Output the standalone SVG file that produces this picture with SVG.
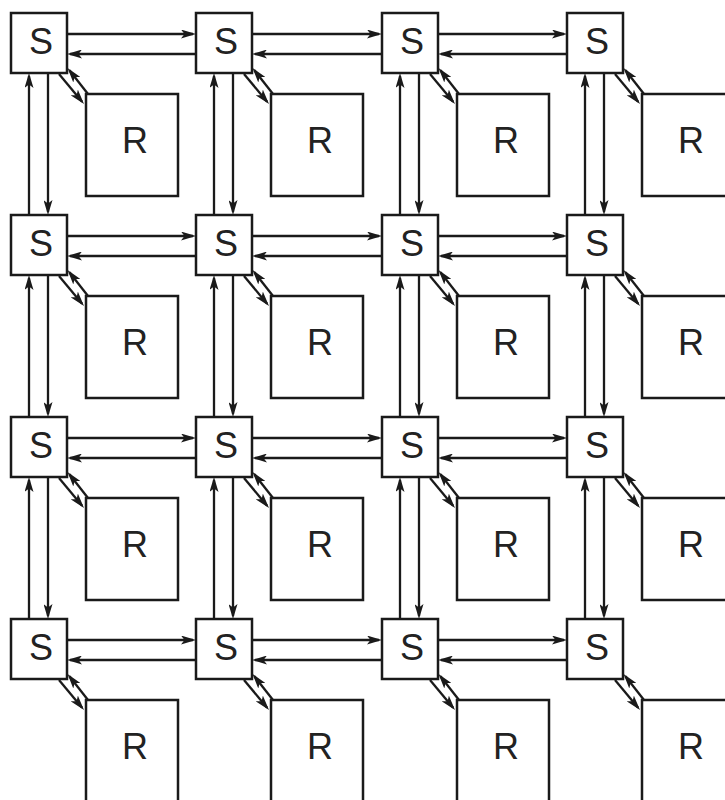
<svg xmlns="http://www.w3.org/2000/svg" width="725" height="800" viewBox="0 0 725 800">
<defs>
<marker id="ah" markerWidth="15" markerHeight="9" refX="12" refY="4.5" orient="auto" markerUnits="userSpaceOnUse"><path d="M0,0 L15,4.5 L0,9 L3.5,4.5 z" fill="#1a1a1a"/></marker>
</defs>
<style>
.box{fill:#fff;stroke:#1a1a1a;stroke-width:2.5}
.lbl{font-family:"Liberation Sans",Arial,sans-serif;font-size:36px;fill:#222;text-anchor:middle}
.c line{stroke:#1a1a1a;stroke-width:2.3;marker-end:url(#ah)}
</style>
<rect width="725" height="800" fill="#fff"/>
<g id="connectors" class="c">
<!-- horizontal, row 1 -->
<line x1="67" y1="34" x2="193" y2="34"/><line x1="196" y1="54" x2="70" y2="54"/>
<line x1="252" y1="34" x2="379" y2="34"/><line x1="382" y1="54" x2="255" y2="54"/>
<line x1="438" y1="34" x2="564" y2="34"/><line x1="567" y1="54" x2="441" y2="54"/>
<!-- row 2 -->
<line x1="67" y1="236" x2="193" y2="236"/><line x1="196" y1="256" x2="70" y2="256"/>
<line x1="252" y1="236" x2="379" y2="236"/><line x1="382" y1="256" x2="255" y2="256"/>
<line x1="438" y1="236" x2="564" y2="236"/><line x1="567" y1="256" x2="441" y2="256"/>
<!-- row 3 -->
<line x1="67" y1="438" x2="193" y2="438"/><line x1="196" y1="458" x2="70" y2="458"/>
<line x1="252" y1="438" x2="379" y2="438"/><line x1="382" y1="458" x2="255" y2="458"/>
<line x1="438" y1="438" x2="564" y2="438"/><line x1="567" y1="458" x2="441" y2="458"/>
<!-- row 4 -->
<line x1="67" y1="640" x2="193" y2="640"/><line x1="196" y1="660" x2="70" y2="660"/>
<line x1="252" y1="640" x2="379" y2="640"/><line x1="382" y1="660" x2="255" y2="660"/>
<line x1="438" y1="640" x2="564" y2="640"/><line x1="567" y1="660" x2="441" y2="660"/>
<!-- vertical, col 1 -->
<line x1="29" y1="215" x2="29" y2="76"/><line x1="48" y1="73" x2="48" y2="212"/>
<line x1="29" y1="417" x2="29" y2="278"/><line x1="48" y1="275" x2="48" y2="414"/>
<line x1="29" y1="619" x2="29" y2="480"/><line x1="48" y1="477" x2="48" y2="616"/>
<!-- col 2 -->
<line x1="214" y1="215" x2="214" y2="76"/><line x1="233" y1="73" x2="233" y2="212"/>
<line x1="214" y1="417" x2="214" y2="278"/><line x1="233" y1="275" x2="233" y2="414"/>
<line x1="214" y1="619" x2="214" y2="480"/><line x1="233" y1="477" x2="233" y2="616"/>
<!-- col 3 -->
<line x1="400" y1="215" x2="400" y2="76"/><line x1="419" y1="73" x2="419" y2="212"/>
<line x1="400" y1="417" x2="400" y2="278"/><line x1="419" y1="275" x2="419" y2="414"/>
<line x1="400" y1="619" x2="400" y2="480"/><line x1="419" y1="477" x2="419" y2="616"/>
<!-- col 4 -->
<line x1="585" y1="215" x2="585" y2="76"/><line x1="604" y1="73" x2="604" y2="212"/>
<line x1="585" y1="417" x2="585" y2="278"/><line x1="604" y1="275" x2="604" y2="414"/>
<line x1="585" y1="619" x2="585" y2="480"/><line x1="604" y1="477" x2="604" y2="616"/>
<!-- diagonals S<->R -->
<line x1="59" y1="74" x2="82.1" y2="101.7"/><line x1="88" y1="94" x2="69.4" y2="70.3"/>
<line x1="244" y1="74" x2="267.1" y2="101.7"/><line x1="273" y1="94" x2="254.4" y2="70.3"/>
<line x1="430" y1="74" x2="453.1" y2="101.7"/><line x1="459" y1="94" x2="440.4" y2="70.3"/>
<line x1="615" y1="74" x2="638.1" y2="101.7"/><line x1="644" y1="94" x2="625.4" y2="70.3"/>
<line x1="59" y1="276" x2="82.1" y2="303.7"/><line x1="88" y1="296" x2="69.4" y2="272.3"/>
<line x1="244" y1="276" x2="267.1" y2="303.7"/><line x1="273" y1="296" x2="254.4" y2="272.3"/>
<line x1="430" y1="276" x2="453.1" y2="303.7"/><line x1="459" y1="296" x2="440.4" y2="272.3"/>
<line x1="615" y1="276" x2="638.1" y2="303.7"/><line x1="644" y1="296" x2="625.4" y2="272.3"/>
<line x1="59" y1="478" x2="82.1" y2="505.7"/><line x1="88" y1="498" x2="69.4" y2="474.3"/>
<line x1="244" y1="478" x2="267.1" y2="505.7"/><line x1="273" y1="498" x2="254.4" y2="474.3"/>
<line x1="430" y1="478" x2="453.1" y2="505.7"/><line x1="459" y1="498" x2="440.4" y2="474.3"/>
<line x1="615" y1="478" x2="638.1" y2="505.7"/><line x1="644" y1="498" x2="625.4" y2="474.3"/>
<line x1="59" y1="680" x2="82.1" y2="707.7"/><line x1="88" y1="700" x2="69.4" y2="676.3"/>
<line x1="244" y1="680" x2="267.1" y2="707.7"/><line x1="273" y1="700" x2="254.4" y2="676.3"/>
<line x1="430" y1="680" x2="453.1" y2="707.7"/><line x1="459" y1="700" x2="440.4" y2="676.3"/>
<line x1="615" y1="680" x2="638.1" y2="707.7"/><line x1="644" y1="700" x2="625.4" y2="676.3"/>
</g>
<g id="S11"><rect class="box" x="11" y="13" width="56" height="60"/><text class="lbl" x="41" y="54">S</text></g>
<g id="S12"><rect class="box" x="196" y="13" width="56" height="60"/><text class="lbl" x="226" y="54">S</text></g>
<g id="S13"><rect class="box" x="382" y="13" width="56" height="60"/><text class="lbl" x="412" y="54">S</text></g>
<g id="S14"><rect class="box" x="567" y="13" width="56" height="60"/><text class="lbl" x="597" y="54">S</text></g>
<g id="S21"><rect class="box" x="11" y="215" width="56" height="60"/><text class="lbl" x="41" y="256">S</text></g>
<g id="S22"><rect class="box" x="196" y="215" width="56" height="60"/><text class="lbl" x="226" y="256">S</text></g>
<g id="S23"><rect class="box" x="382" y="215" width="56" height="60"/><text class="lbl" x="412" y="256">S</text></g>
<g id="S24"><rect class="box" x="567" y="215" width="56" height="60"/><text class="lbl" x="597" y="256">S</text></g>
<g id="S31"><rect class="box" x="11" y="417" width="56" height="60"/><text class="lbl" x="41" y="458">S</text></g>
<g id="S32"><rect class="box" x="196" y="417" width="56" height="60"/><text class="lbl" x="226" y="458">S</text></g>
<g id="S33"><rect class="box" x="382" y="417" width="56" height="60"/><text class="lbl" x="412" y="458">S</text></g>
<g id="S34"><rect class="box" x="567" y="417" width="56" height="60"/><text class="lbl" x="597" y="458">S</text></g>
<g id="S41"><rect class="box" x="11" y="619" width="56" height="60"/><text class="lbl" x="41" y="660">S</text></g>
<g id="S42"><rect class="box" x="196" y="619" width="56" height="60"/><text class="lbl" x="226" y="660">S</text></g>
<g id="S43"><rect class="box" x="382" y="619" width="56" height="60"/><text class="lbl" x="412" y="660">S</text></g>
<g id="S44"><rect class="box" x="567" y="619" width="56" height="60"/><text class="lbl" x="597" y="660">S</text></g>
<g id="R11"><rect class="box" x="86" y="94" width="92" height="102"/><text class="lbl" x="135" y="153">R</text></g>
<g id="R12"><rect class="box" x="271" y="94" width="92" height="102"/><text class="lbl" x="320" y="153">R</text></g>
<g id="R13"><rect class="box" x="457" y="94" width="92" height="102"/><text class="lbl" x="506" y="153">R</text></g>
<g id="R14"><rect class="box" x="642" y="94" width="92" height="102"/><text class="lbl" x="691" y="153">R</text></g>
<g id="R21"><rect class="box" x="86" y="296" width="92" height="102"/><text class="lbl" x="135" y="355">R</text></g>
<g id="R22"><rect class="box" x="271" y="296" width="92" height="102"/><text class="lbl" x="320" y="355">R</text></g>
<g id="R23"><rect class="box" x="457" y="296" width="92" height="102"/><text class="lbl" x="506" y="355">R</text></g>
<g id="R24"><rect class="box" x="642" y="296" width="92" height="102"/><text class="lbl" x="691" y="355">R</text></g>
<g id="R31"><rect class="box" x="86" y="498" width="92" height="102"/><text class="lbl" x="135" y="557">R</text></g>
<g id="R32"><rect class="box" x="271" y="498" width="92" height="102"/><text class="lbl" x="320" y="557">R</text></g>
<g id="R33"><rect class="box" x="457" y="498" width="92" height="102"/><text class="lbl" x="506" y="557">R</text></g>
<g id="R34"><rect class="box" x="642" y="498" width="92" height="102"/><text class="lbl" x="691" y="557">R</text></g>
<g id="R41"><rect class="box" x="86" y="700" width="92" height="102"/><text class="lbl" x="135" y="759">R</text></g>
<g id="R42"><rect class="box" x="271" y="700" width="92" height="102"/><text class="lbl" x="320" y="759">R</text></g>
<g id="R43"><rect class="box" x="457" y="700" width="92" height="102"/><text class="lbl" x="506" y="759">R</text></g>
<g id="R44"><rect class="box" x="642" y="700" width="92" height="102"/><text class="lbl" x="691" y="759">R</text></g>
</svg>
